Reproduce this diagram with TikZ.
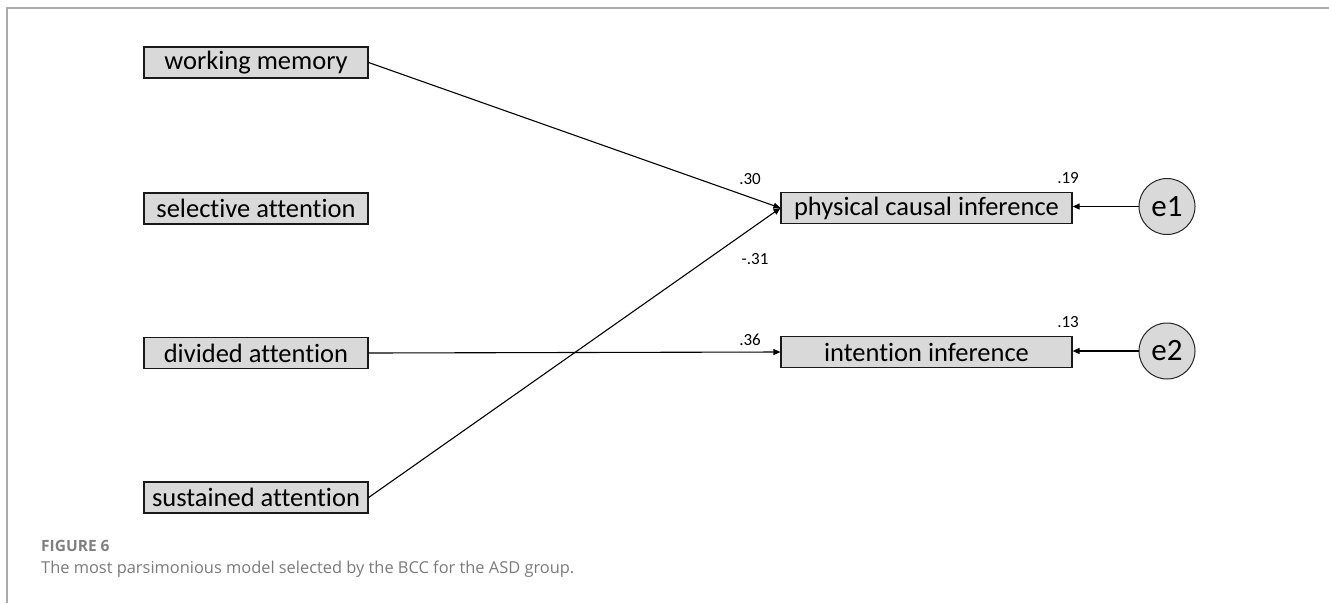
\documentclass[tikz,border=0pt]{standalone}
\usepackage{fontspec}
\setmainfont{Carlito}[Ligatures=CommonOff]
\newfontfamily\capfont{Open Sans}
\usetikzlibrary{arrows.meta}
\definecolor{boxfill}{HTML}{D9D9D9}
\definecolor{framegray}{HTML}{AAAAAA}
\definecolor{capgray}{HTML}{808080}
\tikzset{
  var/.style={draw=black!90, fill=boxfill, line width=1.2pt, minimum width=224pt, minimum height=31pt, inner sep=0pt, font=\fontsize{26.5}{29}\selectfont},
  dep/.style={var, minimum width=291pt},
  err/.style={circle, draw=black!85, fill=boxfill, line width=1pt, minimum size=56pt, inner sep=0pt, font=\fontsize{31}{33}\selectfont},
  path/.style={line width=1.1pt, -{Triangle[length=7pt,width=6pt]}},
  coef/.style={font=\fontsize{17}{19}\selectfont, inner sep=0pt}
}
\begin{document}
\begin{tikzpicture}[x=1pt,y=-1pt]
\useasboundingbox (0,0) rectangle (1329,603);
\draw[framegray, line width=1.5pt] (7,603) -- (7,8) -- (1329,8);
\node[var] (wm) at (256,62.5) {working memory};
\node[var] (sel) at (256,208.5) {selective attention};
\node[var] (div) at (256,353) {divided attention};
\node[var] (sus) at (256,497.5) {sustained attention};
\node[dep] (pci) at (926.5,208) {physical causal inference};
\node[dep] (ii) at (926.5,352) {intention inference};
\node[err] (e1) at (1167,206.5) {e1};
\node[err] (e2) at (1167,351) {e2};
\draw[path] (wm.east) -- (pci.west);
\draw[path] (sus.east) -- (pci.west);
\draw[path] (div.east) -- (ii.west);
\draw[path] (e1.west) -- (pci.east |- e1.west);
\draw[path] (e2.west) -- (ii.east |- e2.west);
\node[coef] (c30) at (750,179) {.30};
\node[coef] (c31) at (755,259) {-.31};
\node[coef] (c36) at (750,340) {.36};
\node[coef] (c19) at (1068,178) {.19};
\node[coef] (c13) at (1068,322) {.13};
\node[anchor=west, inner sep=0pt, text=capgray, font=\capfont\bfseries\fontsize{15.5}{17}\selectfont] (fig) at (41,546) {FIGURE 6};
\node[anchor=west, inner sep=0pt, text=capgray!95!black, font=\capfont\fontsize{16.4}{19}\selectfont] (cap) at (41,569) {The most parsimonious model selected by the BCC for the ASD group.};
\end{tikzpicture}
\end{document}
